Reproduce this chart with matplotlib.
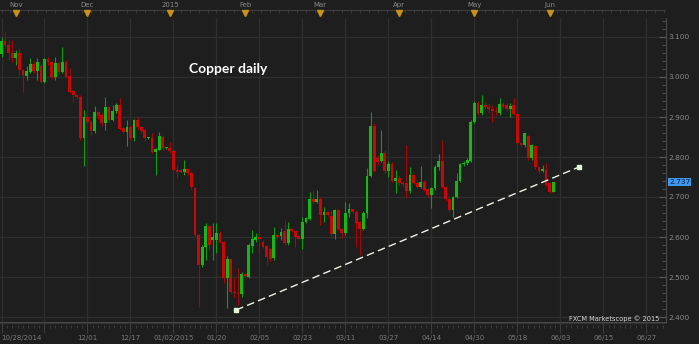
import matplotlib
matplotlib.use("Agg")
import matplotlib.pyplot as plt
import numpy as np

# daily OHLC, one entry per trading day starting 10/28/2014
opens = [3.058, 3.090, 3.081, 3.061, 3.048, 3.060, 3.018, 3.003, 3.013, 3.033,
         3.016, 3.027, 2.987, 3.045, 3.037, 3.001, 3.034, 3.013, 3.037, 3.002,
         2.965, 2.955, 2.951, 2.848, 2.901, 2.888, 2.866, 2.912, 2.905, 2.884,
         2.924, 2.892, 2.915, 2.931, 2.872, 2.862, 2.876, 2.847, 2.892, 2.874,
         2.868, 2.847, 2.847, 2.813, 2.818, 2.851, 2.822, 2.823, 2.815, 2.768,
         2.767, 2.763, 2.769, 2.761, 2.723, 2.605, 2.530, 2.576, 2.628, 2.593,
         2.593, 2.611, 2.588, 2.498, 2.544, 2.463, 2.459, 2.458, 2.507, 2.501,
         2.578, 2.593, 2.601, 2.588, 2.578, 2.569, 2.547, 2.604, 2.603, 2.615,
         2.584, 2.619, 2.615, 2.603, 2.596, 2.638, 2.646, 2.694, 2.688, 2.695,
         2.655, 2.663, 2.653, 2.608, 2.668, 2.619, 2.609, 2.661, 2.669, 2.663,
         2.638, 2.619, 2.661, 2.753, 2.878, 2.797, 2.791, 2.811, 2.765, 2.783,
         2.740, 2.748, 2.736, 2.734, 2.716, 2.755, 2.736, 2.726, 2.738, 2.719,
         2.705, 2.722, 2.776, 2.790, 2.724, 2.694, 2.668, 2.699, 2.741, 2.783,
         2.784, 2.791, 2.888, 2.934, 2.911, 2.930, 2.926, 2.919, 2.916, 2.911,
         2.933, 2.930, 2.919, 2.930, 2.908, 2.834, 2.830, 2.853, 2.797, 2.828,
         2.774, 2.766, 2.768, 2.734, 2.713]
highs = [3.100, 3.113, 3.092, 3.092, 3.067, 3.072, 3.020, 3.027, 3.048, 3.040,
         3.047, 3.035, 3.047, 3.050, 3.040, 3.051, 3.040, 3.076, 3.042, 3.022,
         2.968, 2.958, 2.956, 2.918, 2.905, 2.890, 2.928, 2.915, 2.910, 2.951,
         2.928, 2.930, 2.935, 2.947, 2.875, 2.893, 2.880, 2.895, 2.900, 2.878,
         2.870, 2.850, 2.859, 2.822, 2.863, 2.855, 2.825, 2.837, 2.818, 2.780,
         2.770, 2.793, 2.772, 2.765, 2.726, 2.607, 2.580, 2.636, 2.630, 2.636,
         2.634, 2.615, 2.590, 2.553, 2.548, 2.498, 2.522, 2.513, 2.510, 2.585,
         2.618, 2.609, 2.618, 2.592, 2.580, 2.572, 2.626, 2.607, 2.622, 2.643,
         2.638, 2.622, 2.618, 2.605, 2.651, 2.650, 2.713, 2.718, 2.718, 2.701,
         2.676, 2.665, 2.668, 2.670, 2.670, 2.622, 2.688, 2.684, 2.672, 2.668,
         2.640, 2.665, 2.772, 2.913, 2.884, 2.805, 2.868, 2.818, 2.791, 2.788,
         2.768, 2.752, 2.740, 2.830, 2.776, 2.758, 2.740, 2.778, 2.742, 2.722,
         2.726, 2.780, 2.808, 2.843, 2.727, 2.697, 2.703, 2.759, 2.785, 2.790,
         2.797, 2.893, 2.940, 2.940, 2.955, 2.938, 2.934, 2.930, 2.925, 2.947,
         2.938, 2.935, 2.934, 2.947, 2.913, 2.838, 2.861, 2.855, 2.833, 2.830,
         2.777, 2.780, 2.784, 2.737, 2.738]
lows = [3.050, 3.075, 3.042, 3.038, 3.030, 3.005, 2.963, 2.992, 3.009, 3.010,
        2.992, 2.985, 2.984, 3.030, 2.995, 2.993, 3.008, 3.009, 2.999, 2.959,
        2.938, 2.945, 2.843, 2.778, 2.880, 2.855, 2.859, 2.895, 2.878, 2.868,
        2.888, 2.890, 2.910, 2.868, 2.860, 2.828, 2.843, 2.840, 2.870, 2.860,
        2.840, 2.845, 2.811, 2.755, 2.817, 2.818, 2.820, 2.809, 2.764, 2.747,
        2.760, 2.755, 2.755, 2.720, 2.600, 2.425, 2.525, 2.543, 2.568, 2.543,
        2.559, 2.585, 2.484, 2.423, 2.460, 2.451, 2.430, 2.450, 2.498, 2.497,
        2.559, 2.588, 2.559, 2.572, 2.530, 2.540, 2.543, 2.596, 2.593, 2.580,
        2.580, 2.612, 2.576, 2.592, 2.569, 2.635, 2.643, 2.684, 2.686, 2.630,
        2.638, 2.652, 2.597, 2.594, 2.618, 2.597, 2.605, 2.651, 2.660, 2.576,
        2.555, 2.618, 2.647, 2.750, 2.763, 2.780, 2.788, 2.759, 2.749, 2.738,
        2.711, 2.730, 2.728, 2.697, 2.709, 2.732, 2.722, 2.722, 2.714, 2.700,
        2.672, 2.718, 2.768, 2.722, 2.690, 2.662, 2.651, 2.697, 2.738, 2.778,
        2.780, 2.788, 2.885, 2.905, 2.905, 2.920, 2.909, 2.888, 2.905, 2.905,
        2.920, 2.915, 2.899, 2.905, 2.830, 2.826, 2.826, 2.793, 2.793, 2.770,
        2.761, 2.763, 2.726, 2.710, 2.713]
closes = [3.090, 3.080, 3.059, 3.048, 3.060, 3.018, 3.005, 3.016, 3.033, 3.016,
          3.037, 2.988, 3.045, 3.037, 3.001, 3.034, 3.013, 3.037, 3.001, 2.962,
          2.955, 2.951, 2.848, 2.901, 2.888, 2.866, 2.912, 2.902, 2.884, 2.924,
          2.892, 2.915, 2.931, 2.870, 2.863, 2.876, 2.847, 2.892, 2.874, 2.866,
          2.847, 2.848, 2.813, 2.820, 2.852, 2.822, 2.823, 2.815, 2.768, 2.763,
          2.763, 2.770, 2.759, 2.724, 2.605, 2.530, 2.576, 2.628, 2.580, 2.599,
          2.611, 2.588, 2.498, 2.544, 2.463, 2.459, 2.458, 2.507, 2.503, 2.579,
          2.595, 2.599, 2.594, 2.576, 2.549, 2.544, 2.604, 2.599, 2.613, 2.584,
          2.619, 2.615, 2.601, 2.596, 2.638, 2.647, 2.694, 2.688, 2.694, 2.655,
          2.663, 2.655, 2.608, 2.668, 2.619, 2.609, 2.661, 2.669, 2.663, 2.636,
          2.619, 2.661, 2.753, 2.878, 2.765, 2.788, 2.811, 2.765, 2.783, 2.741,
          2.748, 2.734, 2.732, 2.716, 2.755, 2.736, 2.726, 2.738, 2.718, 2.705,
          2.723, 2.776, 2.790, 2.724, 2.694, 2.668, 2.699, 2.741, 2.783, 2.786,
          2.793, 2.888, 2.934, 2.911, 2.930, 2.924, 2.919, 2.915, 2.912, 2.933,
          2.926, 2.920, 2.928, 2.908, 2.834, 2.830, 2.859, 2.797, 2.830, 2.774,
          2.765, 2.769, 2.730, 2.713, 2.737]

date_ticks = [0, 12, 24, 36, 48, 60, 72, 84, 96, 108, 120, 132, 144, 156, 168, 180]
date_labels = ["10/28/2014", "", "12/01", "12/17", "01/02/2015", "01/20", "02/05",
               "02/23", "03/11", "03/27", "04/14", "04/30", "05/18", "06/03",
               "06/15", "06/27"]
month_ticks = [4, 24, 47, 68, 89, 111, 132, 153]
month_labels = ["Nov", "Dec", "2015", "Feb", "Mar", "Apr", "May", "Jun"]
price_ticks = [2.4, 2.5, 2.6, 2.7, 2.8, 2.9, 3.0, 3.1]
trend_x = [65.5, 161.2]
trend_y = [2.4175, 2.775]
last_price = closes[-1]

BG = "#1e1e1e"
GRID = "#2e2e2e"
TXT = "#8a8a8a"
AXC = "#4a4a4a"
UP, UP_W = "#16b816", "#139a13"
DN, DN_W = "#c80808", "#a80606"

W, H = 699, 344
XMIN, XMAX = -0.42, 185.47
fig = plt.figure(figsize=(W / 100, H / 100), dpi=100)
fig.patch.set_facecolor(BG)

# main price panel
ax = fig.add_axes([0, 22 / H, 666 / W, 304 / H])
ax.set_facecolor(BG)
ax.set_xlim(XMIN, XMAX)
ax.set_ylim(2.3875, 3.1475)

x = np.arange(len(opens))
o = np.array(opens)
c = np.array(closes)
up = c >= o
body_lo = np.minimum(o, c)
body_h = np.maximum(np.abs(c - o), 0.0025)

ax.vlines(x, lows, highs, colors=np.where(up, UP_W, DN_W), lw=0.8, zorder=3)
ax.bar(x, body_h, bottom=body_lo, width=0.78, color=np.where(up, UP, DN),
       linewidth=0, zorder=4)

ax.plot(trend_x, trend_y, color="#eef5e6", lw=1.0, dashes=(5.5, 3), zorder=5)
ax.plot(trend_x, trend_y, ls="none", marker="s", ms=3.2, color="#e4f5dc", zorder=6)

ax.set_xticks(date_ticks)
ax.set_yticks(price_ticks)
ax.set_yticks(np.arange(2.40, 3.141, 0.02), minor=True)
ax.grid(True, which="major", color=GRID, lw=0.9)
ax.yaxis.tick_right()
ax.yaxis.set_major_formatter(matplotlib.ticker.FormatStrFormatter("%.3f"))
ax.tick_params(axis="y", which="major", direction="in", length=5, width=0.8,
               color="#5a5a5a", labelcolor=TXT, labelsize=5.3, pad=1.5)
ax.tick_params(axis="y", which="minor", direction="in", length=3, width=0.6,
               color="#5a5a5a")
ax.tick_params(axis="x", length=0, labelbottom=False)
for s in ["top", "left", "bottom"]:
    ax.spines[s].set_visible(False)
ax.spines["right"].set_color(AXC)

ax.annotate(f"{last_price:.3f}", xy=(1, last_price), xycoords=("axes fraction", "data"),
            xytext=(2.2, 0), textcoords="offset points", va="center", ha="left",
            fontsize=5.3, color="#0c1c38",
            bbox=dict(boxstyle="square,pad=0.15", fc="#3f97ee", ec="none"))

# date strip at the bottom
axb = fig.add_axes([0, 0, 666 / W, 22 / H])
axb.set_xlim(XMIN, XMAX)
axb.set_ylim(0, 22)
axb.axis("off")
axb.axhline(22, color=AXC, lw=0.8)
axb.axhline(20.6, color="#333333", lw=0.8)
axb.vlines(date_ticks, 11, 22, color="#3c3c3c", lw=0.8)
minor = [t + k * 1.5 for t in date_ticks for k in range(1, 8)]
axb.vlines(minor, 16, 19.5, color="#3c3c3c", lw=0.7)
for t, lab in zip(date_ticks, date_labels):
    axb.text(t, 6, lab, color="#7a7a7a", fontsize=5, va="center",
             ha="left" if t == 0 else "center")

# month strip at the top
axt = fig.add_axes([0, 326 / H, 666 / W, 18 / H])
axt.set_xlim(XMIN, XMAX)
axt.set_ylim(0, 18)
axt.axis("off")
axt.axhline(8, color="#3c3c3c", lw=0.8)
axt.vlines(np.arange(0, 186, 2.5), 5.5, 8, color="#3c3c3c", lw=0.6)
axt.plot(month_ticks, [5.5] * len(month_ticks), ls="none", marker="v", ms=4,
         color="#c8921c")
for t, lab in zip(month_ticks, month_labels):
    axt.text(t, 13, lab, color="#8a8a8a", fontsize=5, ha="center", va="center")

fig.text(189 / W, 1 - 69 / H, "Copper daily", color="white", fontsize=10,
         fontweight="bold", family="Lato", va="center", ha="left")
fig.text(659 / W, 1 - 319 / H, "FXCM Marketscope \u00a9 2015", color="#d6d6d6",
         fontsize=4.8, va="center", ha="right")

fig.savefig("out.png", dpi=100, facecolor=BG)
